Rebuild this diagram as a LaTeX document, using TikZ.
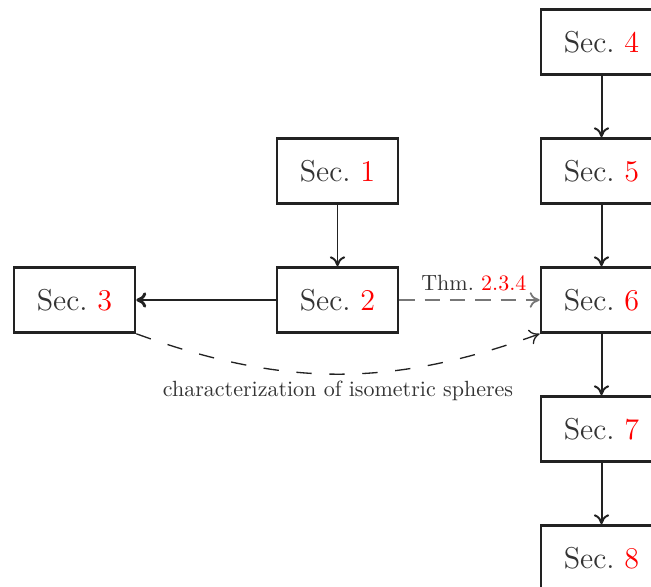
\documentclass[tikz,border=0pt]{standalone}
\usetikzlibrary{arrows.meta}
\definecolor{ink}{HTML}{222222}
\definecolor{txt}{HTML}{333333}
\definecolor{dashgray}{HTML}{777777}
\tikzset{
  secbox/.style={draw=ink, line width=1.2pt, fill=white, text=txt,
    minimum width=55pt, minimum height=29.5pt, inner sep=0pt,
    font=\fontsize{13.7}{16}\selectfont},
  tip/.style={-{To[length=4.5pt,width=7pt]}},
  flow/.style={draw=ink, line width=0.9pt, tip},
  strong/.style={draw=ink, line width=1.3pt, tip},
  thm/.style={draw=dashgray, line width=0.8pt, dash pattern=on 7pt off 4.5pt, tip},
  charc/.style={draw=ink, line width=0.6pt, dash pattern=on 7pt off 8pt, tip},
  lbl/.style={text=txt, font=\normalsize, inner sep=0pt}
}
\newcommand{\secref}[1]{Sec.~\textcolor{red}{#1}}
\begin{document}
\begin{tikzpicture}[x=0.4545pt, y=0.4545pt]
  \clip (0,0) rectangle (651,-586);
  \fill[white] (0,0) rectangle (651,-586);

  % section boxes
  \node[secbox] (s1) at (337.5,-171) {\secref{1}};
  \node[secbox] (s2) at (337.5,-300) {\secref{2}};
  \node[secbox] (s3) at (74.5,-300) {\secref{3}};
  \node[secbox] (s4) at (601.5,-42) {\secref{4}};
  \node[secbox] (s5) at (601.5,-171) {\secref{5}};
  \node[secbox] (s6) at (601.5,-300) {\secref{6}};
  \node[secbox] (s7) at (601.5,-429) {\secref{7}};
  \node[secbox] (s8) at (601.5,-558) {\secref{8}};

  % dependencies
  \draw[flow] (s1) -- (s2);
  \draw[strong] (s2) -- (s3);
  \draw[flow] (s4) -- (s5);
  \draw[flow] (s5) -- (s6);
  \draw[flow] (s6) -- (s7);
  \draw[flow] (s7) -- (s8);

  \draw[thm] (s2.east) -- node[lbl, above=3.5pt, xshift=2pt] {Thm.~\textcolor{red}{2.3.4}} (s6.west);

  \draw[charc] (s3.south east) to[bend right=20]
    node[lbl, below=3pt] {characterization of isometric spheres} (s6.south west);
\end{tikzpicture}
\end{document}
